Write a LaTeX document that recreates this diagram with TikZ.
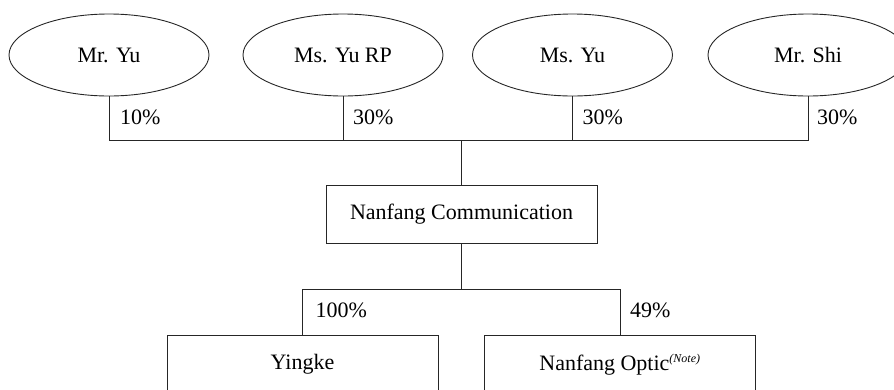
\documentclass[tikz,border=0pt]{standalone}
\usepackage{fontspec}
\setmainfont{Liberation Serif}
\usetikzlibrary{shapes.geometric}
\begin{document}
\begin{tikzpicture}[x=1pt,y=-1pt,
  line/.style={draw=black!85,line width=0.9pt},
  person/.style={ellipse,line,minimum width=200pt,minimum height=82pt,inner sep=0pt,font=\fontsize{22}{26}\selectfont},
  company/.style={rectangle,line,minimum width=271pt,minimum height=57.5pt,inner sep=0pt,font=\fontsize{22}{26}\selectfont},
  pct/.style={anchor=base west,inner sep=0pt,font=\fontsize{22}{26}\selectfont}]
\useasboundingbox (0,0) rectangle (894,389);
\node[person] (yu)   at (109,55) {Mr. Yu};
\node[person] (yurp) at (343,55) {Ms. Yu RP};
\node[person] (msyu) at (572.5,55) {Ms. Yu};
\node[person] (shi)  at (808,55) {Mr. Shi};
\node[company] (nc) at (461.5,214.5) {Nanfang Communication};
\node[company] (yk) at (302.5,364.5) {Yingke};
\node[company] (no) at (620,364.5) {Nanfang Optic\textsuperscript{\itshape\fontsize{12}{14}\selectfont(Note)}};
\coordinate (bus) at (461.5,140);
\coordinate (bus2) at (461.5,289.3);
\draw[line] (yu.south) |- (bus);
\draw[line] (yurp.south) |- (bus);
\draw[line] (msyu.south) |- (bus);
\draw[line] (shi.south) |- (bus);
\draw[line] (bus) -- (nc.north);
\draw[line] (nc.south) -- (bus2);
\draw[line] (bus2) -| (yk.north);
\draw[line] (bus2) -| (no.north);
\node[pct] (p1) at (120,124) {10\%};
\node[pct] (p2) at (353,124) {30\%};
\node[pct] (p3) at (582.5,124) {30\%};
\node[pct] (p4) at (817,124) {30\%};
\node[pct] (p5) at (315.5,317) {100\%};
\node[pct] (p6) at (630,317) {49\%};
\end{tikzpicture}
\end{document}
